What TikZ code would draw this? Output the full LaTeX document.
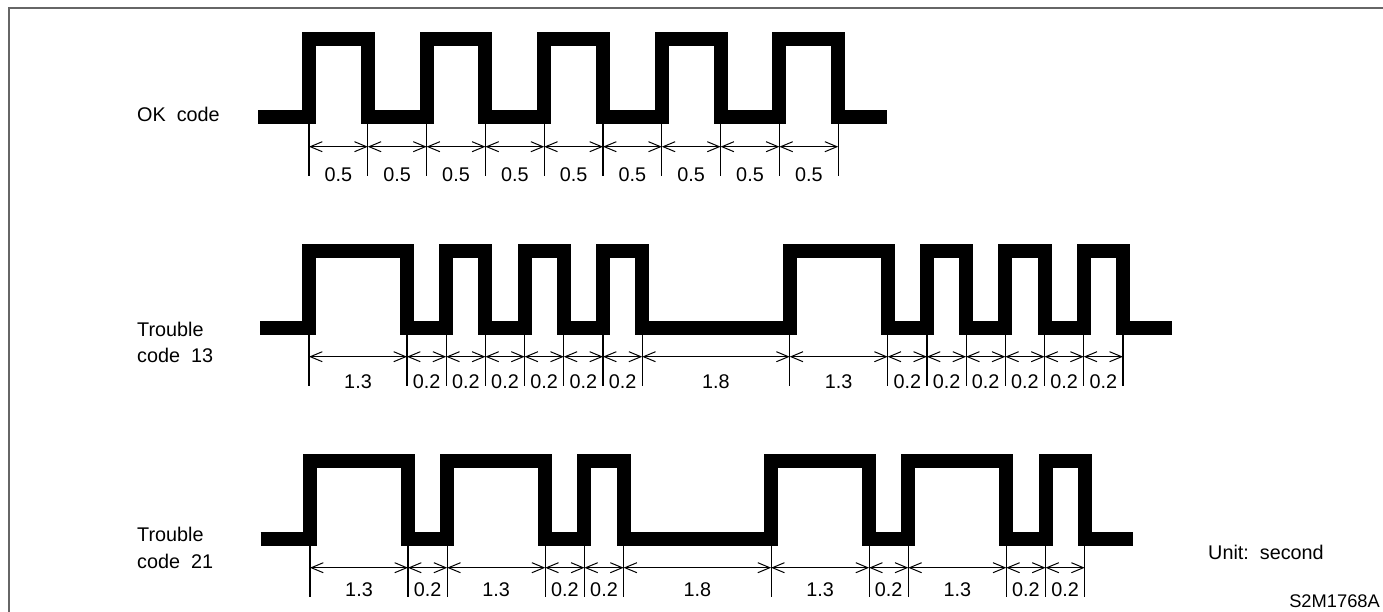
\documentclass[tikz,border=0pt]{standalone}
\usepackage{fontspec}
\setmainfont{Liberation Sans}
\usetikzlibrary{calc,arrows.meta}
\tikzset{
  frame/.style={draw=black!60,line width=2pt},
  wave/.style={line width=14pt,line join=miter,black},
  tick/.style={line width=1.2pt,black},
  dim/.style={{Straight Barb[length=12pt,width=10pt]}-{Straight Barb[length=12pt,width=10pt]},line width=1pt,black},
  lbl/.style={font=\fontsize{19.8}{26.6}\selectfont,inner sep=0pt,align=left},
  num/.style={font=\fontsize{19.8}{22}\selectfont,inner sep=0pt,anchor=base},
}

\begin{document}
\begin{tikzpicture}[x=1pt,y=-1pt]
  \useasboundingbox (0,0) rectangle (1383,611);
  \draw[frame] (9,615) -- (9,8) -- (1390,8);
  % OK code
  \node[lbl,anchor=base west] (okl) at (137,121) {OK~~code};
  \draw[wave] (258,116.7) foreach \a/\b in {309/367.8,426.6/485.4,544.2/603,661.8/720.6,779.4/838.2}{
    -- (\a,116.7) -- (\a,39.3) -- (\b,39.3) -- (\b,116.7)} -- (887,116.7);
  \foreach \x [count=\i] in {309,367.8,426.6,485.4,544.2,603,661.8,720.6,779.4,838.2}{
    \coordinate (oku\i) at (\x,116.7); \coordinate (okd\i) at (\x,175.7); \coordinate (okm\i) at (\x,146.7);
    \draw[tick] (oku\i) -- (okd\i);}
  \foreach \l [count=\i] in {0.5,0.5,0.5,0.5,0.5,0.5,0.5,0.5,0.5}{
    \pgfmathtruncatemacro\j{\i+1}
    \draw[dim] (okm\i) -- (okm\j);
    \node[num] (okv\i) at ($(okm\i)!0.5!(okm\j)+(0,35)$) {\l};}
  % trouble code 13
  \node[lbl,anchor=north west] (trl) at (137,321.6) {Trouble\\code~~13};
  \draw[wave] (260,328.3) foreach \a/\b in {309/407,446.2/485.4,524.6/563.8,603/642.2,789.7/887.7,926.9/966.1,1005.3/1044.5,1083.7/1122.9}{
    -- (\a,328.3) -- (\a,250.5) -- (\b,250.5) -- (\b,328.3)} -- (1171.7,328.3);
  \foreach \x [count=\i] in {309,407,446.2,485.4,524.6,563.8,603,642.2,789.7,887.7,926.9,966.1,1005.3,1044.5,1083.7,1122.9}{
    \coordinate (tru\i) at (\x,328.3); \coordinate (trd\i) at (\x,385.7); \coordinate (trm\i) at (\x,356.7);
    \draw[tick] (tru\i) -- (trd\i);}
  \foreach \l [count=\i] in {1.3,0.2,0.2,0.2,0.2,0.2,0.2,1.8,1.3,0.2,0.2,0.2,0.2,0.2,0.2}{
    \pgfmathtruncatemacro\j{\i+1}
    \draw[dim] (trm\i) -- (trm\j);
    \node[num] (trv\i) at ($(trm\i)!0.5!(trm\j)+(0,31.6)$) {\l};}
  % trouble code 21
  \node[lbl,anchor=north west] (twl) at (137,527.3) {Trouble\\code~~21};
  \draw[wave] (260.7,539.3) foreach \a/\b in {310/408,447.2/545.2,584.4/623.6,771.1/869.1,908.3/1006.3,1045.5/1084.7}{
    -- (\a,539.3) -- (\a,461.3) -- (\b,461.3) -- (\b,539.3)} -- (1133.3,539.3);
  \foreach \x [count=\i] in {310,408,447.2,545.2,584.4,623.6,771.1,869.1,908.3,1006.3,1045.5,1084.7}{
    \coordinate (twu\i) at (\x,539.3); \coordinate (twd\i) at (\x,596.7); \coordinate (twm\i) at (\x,567.7);
    \draw[tick] (twu\i) -- (twd\i);}
  \foreach \l [count=\i] in {1.3,0.2,1.3,0.2,0.2,1.8,1.3,0.2,1.3,0.2,0.2}{
    \pgfmathtruncatemacro\j{\i+1}
    \draw[dim] (twm\i) -- (twm\j);
    \node[num] (twv\i) at ($(twm\i)!0.5!(twm\j)+(0,29)$) {\l};}
  % unit and figure number
  \node[lbl,anchor=base west] (unit) at (1208,559.3) {Unit:~~second};
  \node[font=\fontsize{18.3}{20}\selectfont,inner sep=0pt,anchor=base east] (fig) at (1380,607.3) {S2M1768A};
\end{tikzpicture}
\end{document}
